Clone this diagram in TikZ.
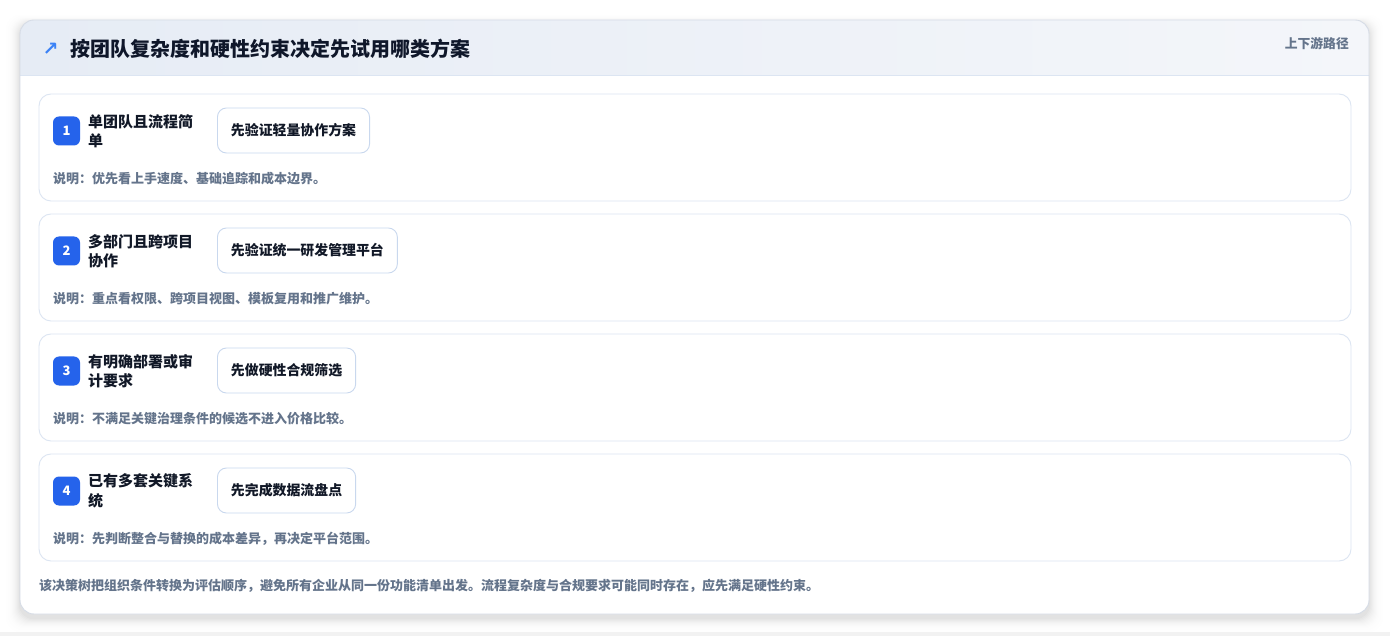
\documentclass[tikz,border=0pt]{standalone}
\usepackage{fontspec}
\setmainfont{Noto Sans CJK SC}
\newfontfamily\symfont{DejaVu Sans}
\usetikzlibrary{calc}
\definecolor{cardborder}{HTML}{D6DCE6}
\definecolor{rowborder}{HTML}{DCE5F2}
\definecolor{btnborder}{HTML}{C9D8EE}
\definecolor{badgeblue}{HTML}{2563EB}
\definecolor{titlecol}{HTML}{0F172A}
\definecolor{labelcol}{HTML}{111827}
\definecolor{desccol}{HTML}{64748B}
\definecolor{headL}{HTML}{E6ECF5}
\definecolor{headR}{HTML}{F4F6FA}
\definecolor{iconblue}{HTML}{3B82F6}
\tikzset{
  rowcard/.style={draw=rowborder, line width=0.9pt, fill=white, rounded corners=12pt},
  badge/.style={fill=badgeblue, rounded corners=6pt, minimum width=27pt, minimum height=29pt, inner sep=0pt, text=white, font=\bfseries\fontsize{13}{15}\selectfont},
  labeltxt/.style={anchor=west, inner sep=0pt, align=left, text=labelcol, font=\bfseries\fontsize{15}{19.5}\selectfont},
  btn/.style={draw=btnborder, line width=0.9pt, fill=white, rounded corners=9pt, minimum height=45pt, inner xsep=13.5pt, anchor=west, text=labelcol, font=\bfseries\fontsize{13.9}{16}\selectfont},
  desctxt/.style={anchor=west, inner sep=0pt, text=desccol, font=\bfseries\fontsize{13}{15}\selectfont},
}
\begin{document}
\begin{tikzpicture}[x=1pt,y=-1pt]
\useasboundingbox (0,0) rectangle (1390,636);
\fill[white] (0,0) rectangle (1390,636);
\fill[black!5] (0,632) rectangle (1390,636);
% outer shadow
\foreach \i/\o in {1/0.018,2/0.016,3/0.014,4/0.012,5/0.010,6/0.008,7/0.007,8/0.006,9/0.004,10/0.003,12/0.003,14/0.002}{
  \fill[black, opacity=\o, rounded corners=14pt] ($(20,20)+(-\i,-\i*0.6+3)$) rectangle ($(1369,614)+(\i,\i+4)$);
}
% outer card
\fill[white, rounded corners=14pt] (20,20) rectangle (1369,614);
\begin{scope}
  \clip[rounded corners=14pt] (20,20) rectangle (1369,614);
  \shade[left color=headL, right color=headR] (20,20) rectangle (1369,75);
  \draw[rowborder, line width=0.9pt] (20,75) -- (1369,75);
\end{scope}
\draw[cardborder, line width=0.9pt, rounded corners=14pt] (20,20) rectangle (1369,614);
% header
\node[anchor=center, inner sep=0pt, text=iconblue, font=\symfont\bfseries\fontsize{19}{19}\selectfont] (icon) at (50.5,49.5) {↗};
\node[anchor=west, inner sep=0pt, text=titlecol, font=\bfseries\fontsize{20}{22}\selectfont] (title) at (70,49) {按团队复杂度和硬性约束决定先试用哪类方案};
\node[anchor=east, inner sep=0pt, text=desccol, font=\bfseries\fontsize{12.8}{14}\selectfont] (tag) at (1349,44) {上下游路径};
% rows
\foreach \n/\lab/\act/\desc [count=\k from 0] in {
  1/{单团队且流程简\\单}/{先验证轻量协作方案}/{说明：优先看上手速度、基础追踪和成本边界。},
  2/{多部门且跨项目\\协作}/{先验证统一研发管理平台}/{说明：重点看权限、跨项目视图、模板复用和推广维护。},
  3/{有明确部署或审\\计要求}/{先做硬性合规筛选}/{说明：不满足关键治理条件的候选不进入价格比较。},
  4/{已有多套关键系\\统}/{先完成数据流盘点}/{说明：先判断整合与替换的成本差异，再决定平台范围。}}{
  \pgfmathsetmacro{\top}{94+120*\k}
  \draw[rowcard] (39,\top) rectangle (1351,\top+107);
  \node[badge] (b\n) at (66.5,\top+37) {\n};
  \node[labeltxt] (l\n) at (88,\top+37) {\lab};
  \node[btn] (a\n) at (217,\top+36.5) {\act};
  \node[desctxt] (d\n) at (53,\top+84.5) {\desc};
}
% footer
\node[desctxt] (foot) at (39,586) {该决策树把组织条件转换为评估顺序，避免所有企业从同一份功能清单出发。流程复杂度与合规要求可能同时存在，应先满足硬性约束。};
\end{tikzpicture}
\end{document}
